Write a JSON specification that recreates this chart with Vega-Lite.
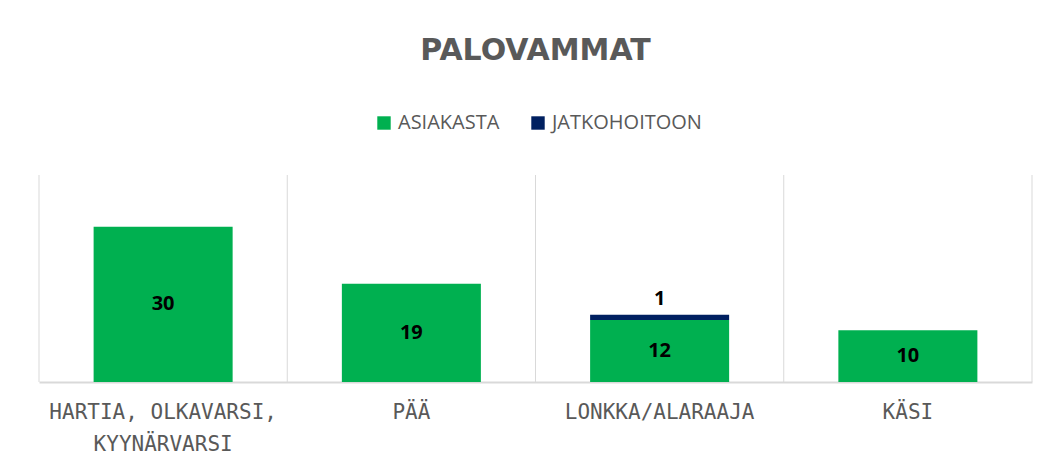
{
  "$schema": "https://vega.github.io/schema/vega-lite/v6.json",
  "width": 993,
  "height": 207,
  "autosize": {"type": "none"},
  "padding": {"left": 39, "top": 175, "right": 30, "bottom": 79},
  "background": "white",
  "title": {
    "text": "PALOVAMMAT",
    "anchor": "middle",
    "font": "DejaVu Sans",
    "fontSize": 30,
    "fontWeight": "bold",
    "color": "#595959",
    "baseline": "alphabetic",
    "offset": 23
  },
  "data": {
    "values": [
      {"cat": "HARTIA, OLKAVARSI, KYYNÄRVARSI", "series": "ASIAKASTA", "value": 30},
      {"cat": "PÄÄ", "series": "ASIAKASTA", "value": 19},
      {"cat": "LONKKA/ALARAAJA", "series": "ASIAKASTA", "value": 12},
      {"cat": "LONKKA/ALARAAJA", "series": "JATKOHOITOON", "value": 1},
      {"cat": "KÄSI", "series": "ASIAKASTA", "value": 10}
    ]
  },
  "encoding": {
    "x": {
      "field": "cat",
      "type": "nominal",
      "sort": null,
      "scale": {"paddingInner": 0, "paddingOuter": 0},
      "axis": {
        "title": null,
        "labelAngle": 0,
        "ticks": false,
        "domain": true,
        "domainColor": "#d9d9d9",
        "domainWidth": 2,
        "grid": false,
        "labelFont": "DejaVu Sans Mono",
        "labelFontSize": 21,
        "labelColor": "#595959",
        "labelPadding": 19,
        "labelLineHeight": 32,
        "labelLimit": 400,
        "labelOverlap": false,
        "labelBound": false,
        "labelExpr": "datum.value == 'HARTIA, OLKAVARSI, KYYNÄRVARSI' ? ['HARTIA, OLKAVARSI,', 'KYYNÄRVARSI'] : datum.value"
      }
    }
  },
  "layer": [
    {
      "mark": {"type": "rule", "color": "#d9d9d9", "strokeWidth": 1},
      "encoding": {
        "x": {"field": "cat", "type": "nominal", "sort": null, "bandPosition": 0}
      }
    },
    {
      "transform": [{"filter": "datum.cat == 'KÄSI'"}],
      "mark": {"type": "rule", "color": "#d9d9d9", "strokeWidth": 1},
      "encoding": {
        "x": {"field": "cat", "type": "nominal", "sort": null, "bandPosition": 1}
      }
    },
    {
      "mark": {"type": "bar", "width": {"band": 0.56}},
      "encoding": {
        "y": {
          "field": "value",
          "type": "quantitative",
          "stack": "zero",
          "scale": {"domain": [0, 40], "nice": false},
          "axis": null
        },
        "order": {"field": "series", "sort": "ascending"},
        "color": {
          "field": "series",
          "type": "nominal",
          "scale": {"domain": ["ASIAKASTA", "JATKOHOITOON"], "range": ["#00b050", "#002060"]},
          "legend": {
            "title": null,
            "orient": "none",
            "direction": "horizontal",
            "legendX": 335,
            "legendY": -62,
            "symbolType": "square",
            "symbolSize": 180,
            "symbolStrokeWidth": 0,
            "labelFont": "Open Sans",
            "labelFontSize": 20,
            "labelColor": "#595959",
            "labelOffset": 4,
            "columnPadding": 28,
            "padding": 0
          }
        }
      }
    },
    {
      "transform": [{"filter": "datum.series == 'ASIAKASTA'"}],
      "mark": {"type": "text", "font": "Open Sans", "fontSize": 20, "fontWeight": "bold", "color": "black", "baseline": "middle"},
      "encoding": {
        "y": {
          "field": "value",
          "type": "quantitative",
          "stack": null,
          "scale": {"domain": [0, 80], "nice": false},
          "axis": null
        },
        "text": {"field": "value", "type": "quantitative"}
      }
    },
    {
      "mark": {"type": "text", "font": "Open Sans", "fontSize": 20, "fontWeight": "bold", "color": "black", "baseline": "middle", "dy": -16},
      "encoding": {
        "y": {
          "field": "value",
          "type": "quantitative",
          "stack": "zero",
          "scale": {"domain": [0, 40], "nice": false},
          "axis": null
        },
        "order": {"field": "series", "sort": "ascending"},
        "detail": {"field": "series"},
        "text": {
          "condition": {"test": "datum.series == 'JATKOHOITOON'", "field": "value", "type": "quantitative"},
          "value": ""
        }
      }
    }
  ],
  "resolve": {"scale": {"y": "independent"}},
  "config": {
    "view": {"stroke": null}
  }
}
